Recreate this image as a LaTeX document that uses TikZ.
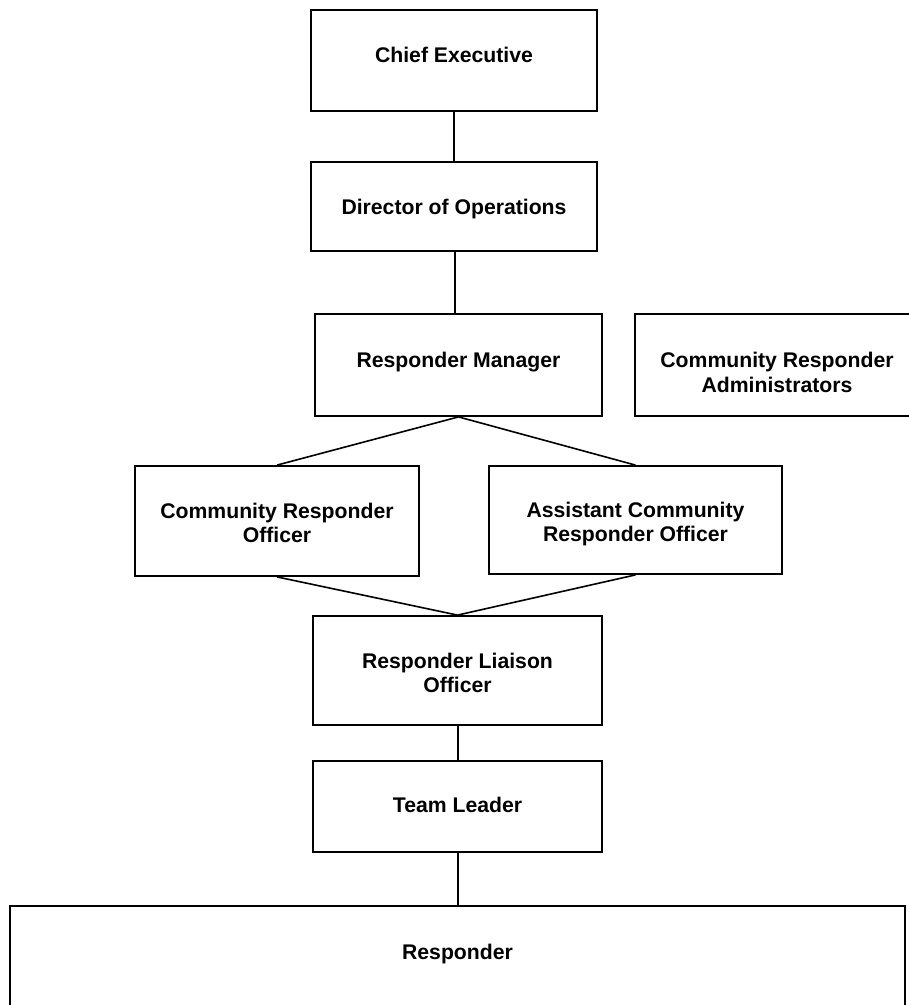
\documentclass[tikz,border=0pt]{standalone}
\usepackage{fontspec}
\setmainfont{Liberation Sans}
\begin{document}
\begin{tikzpicture}[x=1pt,y=-1pt,
  box/.style={draw=black, line width=1.8pt, fill=none, inner sep=0pt, rectangle},
  bigbox/.style={box, line width=2.3pt},
  lbl/.style={anchor=base, inner sep=0pt, font=\fontsize{21.2}{24.5}\selectfont\bfseries, text=black},
  conn/.style={draw=black, line width=1.6pt}]
\useasboundingbox (0,0) rectangle (909,1005);
\clip (0,0) rectangle (909,1005);
\fill[white] (0,0) rectangle (909,1005);
% boxes
\node[box, minimum width=286pt, minimum height=101pt] (ce) at (454,60.5) {};
\node[box, minimum width=286pt, minimum height=89pt] (do) at (454,206.5) {};
\node[box, minimum width=287pt, minimum height=102pt] (rm) at (458.5,365) {};
\node[box, minimum width=285pt, minimum height=102pt] (cra) at (777.5,365) {};
\node[box, minimum width=284pt, minimum height=110pt] (cro) at (277,521) {};
\node[box, minimum width=293pt, minimum height=108pt] (acro) at (635.5,520) {};
\node[box, minimum width=289pt, minimum height=109pt] (rlo) at (457.5,670.5) {};
\node[box, minimum width=289pt, minimum height=91pt] (tl) at (457.5,806.5) {};
\node[bigbox, minimum width=895pt, minimum height=112pt] (resp) at (457.5,962) {};
% labels
\node[lbl] (tce) at (454,62.3) {Chief Executive};
\node[lbl] (tdo) at (454,214.5) {Director of Operations};
\node[lbl] (trm) at (458.5,367.5) {Responder Manager};
\node[lbl] (tcra1) at (777,367.3) {Community Responder};
\node[lbl] (tcra2) at (777,392.3) {Administrators};
\node[lbl] (tcro1) at (277,518.3) {Community Responder};
\node[lbl] (tcro2) at (277,542.3) {Officer};
\node[lbl] (tacro1) at (635.5,517) {Assistant Community};
\node[lbl] (tacro2) at (635.5,541.7) {Responder Officer};
\node[lbl] (trlo1) at (457.5,668) {Responder Liaison};
\node[lbl] (trlo2) at (457.5,692) {Officer};
\node[lbl] (ttl) at (457.5,812) {Team Leader};
\node[lbl] (tresp) at (457.5,959.5) {Responder};
% connectors
\draw[conn] (ce.south) -- (do.north);
\draw[conn] ([xshift=1pt]do.south) -- ([xshift=1pt]do.south |- rm.north);
\draw[conn] (rm.south) -- (cro.north);
\draw[conn] (rm.south) -- (acro.north);
\draw[conn] (cro.south) -- (rlo.north);
\draw[conn] (acro.south) -- (rlo.north);
\draw[conn] ([xshift=0.5pt]rlo.south) -- ([xshift=0.5pt]tl.north);
\draw[conn] ([xshift=0.5pt]tl.south) -- ([xshift=0.5pt]resp.north);
\end{tikzpicture}
\end{document}
